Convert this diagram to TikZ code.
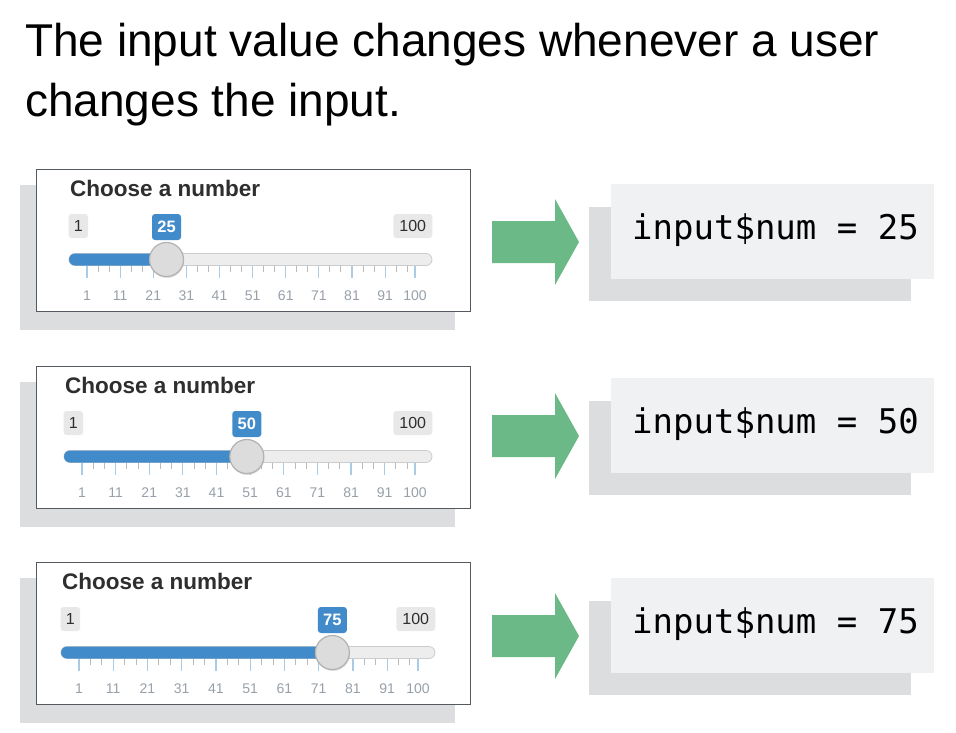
\documentclass[tikz,border=0pt]{standalone}
\usepackage{fontspec}
\setmainfont{Liberation Sans}
\newfontfamily\codefont{DejaVu Sans Mono}
\usetikzlibrary{shadows}
\definecolor{sliderblue}{HTML}{428BCA}
\definecolor{tickblue}{HTML}{A8CBE8}
\definecolor{tickgrey}{HTML}{BBBBBB}
\definecolor{labelgrey}{HTML}{97A0A8}
\definecolor{badgegrey}{HTML}{E8E8E8}
\definecolor{panelshadow}{HTML}{DCDDDF}
\definecolor{codebg}{HTML}{F0F1F3}
\definecolor{arrowgreen}{HTML}{6BB986}
\definecolor{darktext}{HTML}{2E2E2E}
\definecolor{framegrey}{HTML}{555A60}
\definecolor{trackgrey}{HTML}{EDEDED}
\definecolor{knobgrey}{HTML}{DCDCDC}

\tikzset{
  badge/.style={rounded corners=3pt, inner sep=0pt, minimum height=24pt, text=darktext,
    fill=badgegrey, font=\fontsize{16}{18}\selectfont},
  valbadge/.style={badge, fill=sliderblue, text=white, minimum height=26pt, minimum width=29pt,
    font=\fontsize{16.5}{18}\selectfont\bfseries},
  ticklabel/.style={inner sep=0pt, text=labelgrey, font=\fontsize{14}{16}\selectfont},
  major/.style={tickblue, line width=1.2pt},
  minor/.style={tickgrey, line width=1pt},
  knob/.style={fill=knobgrey, draw=black!30, line width=1.2pt,
    drop shadow={opacity=0.25, shadow xshift=0.5pt, shadow yshift=-1.5pt}}
}

\begin{document}
\begin{tikzpicture}[x=1pt, y=-1pt]
  \useasboundingbox (0,0) rectangle (956,732);
  \fill[white] (0,0) rectangle (956,732);
  % Titulo
  \node[anchor=base west, inner sep=0pt, font=\fontsize{46}{55}\selectfont] (title1) at (25,56)
    {The input value changes whenever a user};
  \node[anchor=base west, inner sep=0pt, font=\fontsize{46}{55}\selectfont] (title2) at (25,116)
    {changes the input.};
  % Tres deslizadores y su valor
  \foreach \t/\pa/\pb/\v/\ct in {169/87/415/25/184, 366/82/415/50/378, 562/79/418/75/578} {
    \pgfmathsetmacro\ty{\t+90.5}
    \pgfmathsetmacro\hx{\pa+(\v-1)/99*(\pb-\pa)}
    \pgfmathsetmacro\st{10/99*(\pb-\pa)}
    % Panel
    \fill[panelshadow] (20,\t+16) rectangle (455,\t+161);
    \draw[fill=white, draw=framegrey, line width=1pt] (36.5,\t) rectangle (470,\t+142.5);
    \node[anchor=base west, inner sep=0pt, text=darktext, font=\fontsize{22.5}{26}\selectfont\bfseries]
      (choose-\v) at (\pa-17,\t+27) {Choose a number};
    % Etiquetas de extremos y valor
    \node[badge, minimum width=19.5pt] (min-\v) at (\pa-8.7,\t+57) {1};
    \node[badge, minimum width=39pt] (max-\v) at (\pb-2.2,\t+57) {100};
    \node[valbadge] (val-\v) at (\hx,\t+58) {\v};
    % Escala
    \foreach \k in {0,...,9} {
      \pgfmathsetmacro\tx{\pa+\k*\st}
      \pgfmathtruncatemacro\lab{10*\k+1}
      \draw[major] (\tx,\ty+6) -- (\tx,\ty+18);
      \draw[minor] (\tx+\st/3,\ty+6) -- (\tx+\st/3,\ty+12);
      \draw[minor] (\tx+2*\st/3,\ty+6) -- (\tx+2*\st/3,\ty+12);
      \node[ticklabel] (tk-\v-\k) at (\tx,\t+127) {\lab};
    }
    \draw[major] (\pb,\ty+6) -- (\pb,\ty+18);
    \node[ticklabel] (tk-\v-10) at (\pb,\t+127) {100};
    % Barra y perilla
    \draw[fill=trackgrey, draw=black!20, line width=0.8pt, rounded corners=6pt]
      (\pa-18,\ty-6) rectangle (\pb+17,\ty+6);
    \fill[sliderblue, rounded corners=6pt] (\pa-18,\ty-6) rectangle (\hx,\ty+6);
    \path[knob] (\hx,\ty) circle[radius=17pt];
    % Flecha
    \fill[arrowgreen] (492,\ct+37) -- (555,\ct+37) -- (555,\ct+15) -- (579,\ct+58)
      -- (555,\ct+101) -- (555,\ct+79) -- (492,\ct+79) -- cycle;
    % Caja de codigo
    \fill[panelshadow] (589,\ct+23) rectangle (911,\ct+117);
    \fill[codebg] (611,\ct) rectangle (934,\ct+95);
    \node[anchor=base west, inner sep=0pt, font=\fontsize{34}{40}\codefont] (code-\v) at (632,\ct+55.5)
      {input\$num = \v};
  }
\end{tikzpicture}
\end{document}
